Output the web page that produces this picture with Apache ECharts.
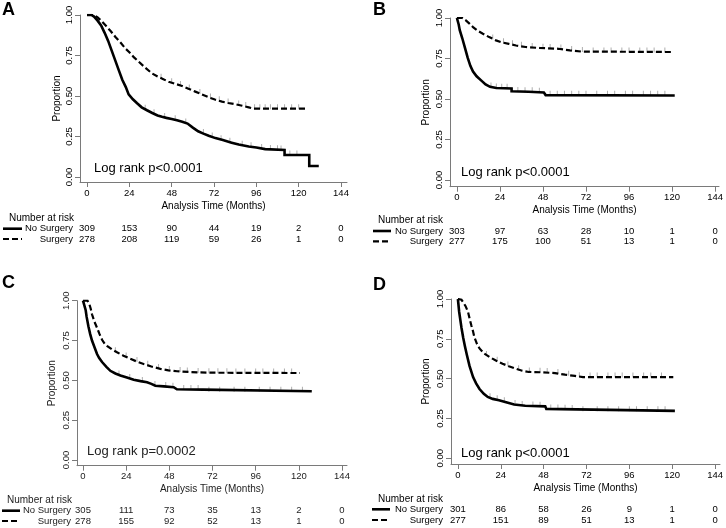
<!DOCTYPE html>
<html><head><meta charset="utf-8">
<script src="https://cdn.jsdelivr.net/npm/echarts@6/dist/echarts.min.js"></script>
<style>html,body{margin:0;padding:0;background:#fff}#c{width:726px;height:528px}</style>
</head><body><div id="c"></div>
<script>
// ---------- DATA ----------
const timeTicks = [0, 24, 48, 72, 96, 120, 144];
const propTicks = [0, 0.25, 0.5, 0.75, 1];
const panelLetters = ['A', 'B', 'C', 'D'];
const logRankTexts = ['Log rank p<0.0001', 'Log rank p<0.0001', 'Log rank p=0.0002', 'Log rank p<0.0001'];
const groupNames = ['No Surgery', 'Surgery'];
const xTitle = 'Analysis Time (Months)';
const yTitle = 'Proportion';
const riskTitle = 'Number at risk';

const riskA_noSurgery = [309, 153, 90, 44, 19, 2, 0];
const riskA_surgery   = [278, 208, 119, 59, 26, 1, 0];
const riskB_noSurgery = [303, 97, 63, 28, 10, 1, 0];
const riskB_surgery   = [277, 175, 100, 51, 13, 1, 0];
const riskC_noSurgery = [305, 111, 73, 35, 13, 2, 0];
const riskC_surgery   = [278, 155, 92, 52, 13, 1, 0];
const riskD_noSurgery = [301, 86, 58, 26, 9, 1, 0];
const riskD_surgery   = [277, 151, 89, 51, 13, 1, 0];

// Kaplan-Meier curves [month, survival]
const kmA_noSurgery = [[0,1],[2.5,1],[4,0.99],[6,0.965],[8,0.935],[10,0.89],[12,0.84],[14,0.78],[16,0.72],[18,0.66],[20,0.6],[22,0.555],[23.6,0.51],[26,0.48],[28.4,0.455],[31,0.43],[34,0.412],[37,0.395],[40,0.38],[42.5,0.372],[45,0.365],[48,0.358],[51,0.35],[54,0.341],[57,0.33],[60,0.305],[63,0.282],[66,0.268],[69,0.255],[72.8,0.24],[77,0.228],[82,0.212],[86,0.2],[91.7,0.188],[96,0.182],[101,0.172],[112,0.167],[112,0.136],[126,0.136],[126,0.068],[131.4,0.068]];
const kmA_surgery = [[0,1],[4,1],[6,0.985],[8.5,0.96],[11,0.93],[13.5,0.9],[16,0.866],[19,0.83],[21.7,0.794],[24,0.77],[26.5,0.74],[29.3,0.712],[33,0.675],[36.8,0.64],[40,0.62],[43,0.605],[46.3,0.588],[50,0.575],[53.9,0.562],[57.5,0.545],[61.4,0.527],[65,0.51],[69,0.492],[72.5,0.478],[76.5,0.465],[80,0.457],[84.1,0.449],[88,0.44],[91.7,0.43],[94.5,0.422],[124.7,0.422]];
const kmB_noSurgery = [[0,1],[1,0.96],[1.6,0.925],[3,0.875],[4.5,0.815],[6,0.755],[7.5,0.705],[9,0.67],[11,0.64],[13.5,0.615],[16,0.59],[18.5,0.575],[22,0.568],[30.5,0.565],[30.5,0.548],[40,0.545],[48.5,0.54],[49.5,0.524],[121.5,0.522]];
const kmB_surgery = [[0,1],[3,1],[5,0.985],[7,0.965],[9,0.944],[11.5,0.922],[14.5,0.903],[18,0.882],[21.8,0.862],[25,0.85],[29,0.84],[33,0.83],[38.3,0.821],[46,0.815],[56.6,0.81],[63,0.8],[69.4,0.793],[120.6,0.79]];
const kmC_noSurgery = [[0,1],[1,1],[1.5,0.94],[2,0.9],[3,0.84],[4,0.79],[5,0.75],[6.5,0.705],[7.8,0.665],[9,0.64],[10.6,0.615],[13,0.585],[15.2,0.56],[18,0.543],[20.8,0.53],[24.4,0.518],[28.2,0.504],[32,0.495],[35.6,0.488],[38,0.478],[40.2,0.466],[45,0.462],[50.4,0.457],[52.2,0.444],[66.7,0.442],[66.7,0.432],[127.2,0.432]];
const kmC_surgery = [[0,1],[2.5,1],[3.5,0.98],[4.3,0.95],[5,0.915],[6.3,0.87],[7.8,0.83],[9.2,0.79],[10.6,0.755],[12,0.73],[13.3,0.717],[16,0.695],[18.9,0.676],[22.5,0.655],[26.3,0.635],[30,0.618],[33.7,0.603],[38,0.587],[43,0.572],[47.5,0.563],[52.3,0.557],[60,0.552],[70.8,0.548],[120.6,0.546]];
const kmD_noSurgery = [[0,1],[0.7,0.92],[2,0.82],[3,0.755],[3.9,0.705],[5,0.65],[6.5,0.58],[8.5,0.51],[10.2,0.47],[12.1,0.435],[14.5,0.405],[16.7,0.385],[19.5,0.373],[23,0.365],[27,0.352],[31.5,0.338],[37.7,0.33],[48.9,0.326],[49.5,0.31],[66.3,0.307],[66.3,0.298],[121.5,0.298]];
const kmD_surgery = [[0,1],[2,0.995],[2.9,0.98],[4.3,0.955],[5.7,0.918],[6.6,0.875],[7.5,0.835],[8.4,0.8],[9.2,0.762],[10.6,0.72],[12.1,0.69],[14.5,0.66],[17.7,0.636],[21,0.615],[25,0.594],[28.5,0.578],[32.4,0.562],[36,0.55],[39.7,0.542],[47,0.54],[54.4,0.535],[60,0.525],[65.5,0.517],[70,0.51],[120.6,0.51]];

// censoring marks [month, survival]
const censA_noSurgery = [[33,0.418],[38,0.39],[44,0.367],[50,0.353],[56,0.333],[66,0.268],[71,0.247],[76,0.23],[81,0.215],[88,0.196],[93,0.187],[99,0.176],[104,0.17],[108,0.168],[110,0.167],[115,0.136],[119,0.136]];
const censA_surgery = [[42,0.61],[48,0.582],[53,0.565],[58,0.543],[64,0.515],[70,0.488],[75,0.47],[80,0.457],[86,0.445],[90,0.435],[95,0.422],[98,0.422],[101,0.422],[104,0.422],[108,0.422],[112,0.422],[116,0.422],[120,0.422]];
const censB_noSurgery = [[19,0.574],[22,0.568],[25,0.567],[28,0.566],[34,0.547],[38,0.545],[42,0.544],[46,0.541],[52,0.523],[56,0.523],[60,0.523],[64,0.523],[68,0.523],[72,0.523],[78,0.523],[84,0.523],[88,0.523],[94,0.523],[98,0.523],[104,0.523],[108,0.523],[112,0.523],[116,0.523]];
const censB_surgery = [[20,0.87],[26,0.847],[31,0.835],[36,0.825],[42,0.818],[48,0.814],[52,0.812],[58,0.808],[64,0.8],[70,0.793],[76,0.79],[82,0.79],[86,0.79],[92,0.79],[96,0.79],[102,0.79],[106,0.79],[110,0.79],[116,0.79]];
const censC_noSurgery = [[20,0.533],[26,0.512],[33,0.493],[40,0.467],[46,0.461],[50,0.457],[56,0.443],[60,0.443],[64,0.443],[70,0.432],[76,0.432],[84,0.432],[90,0.432],[98,0.432],[104,0.432],[110,0.432],[116,0.432],[122,0.432]];
const censC_surgery = [[18,0.68],[24,0.647],[30,0.618],[36,0.595],[42,0.575],[48,0.562],[54,0.556],[58,0.553],[64,0.55],[70,0.548],[75,0.547],[80,0.547],[85,0.546],[90,0.546],[96,0.546],[100,0.546],[106,0.546],[112,0.546],[116,0.546]];
const censD_noSurgery = [[18,0.38],[22,0.367],[26,0.355],[32,0.337],[36,0.331],[42,0.328],[46,0.327],[52,0.31],[56,0.309],[60,0.308],[64,0.307],[70,0.298],[78,0.298],[84,0.298],[90,0.298],[96,0.298],[100,0.298],[106,0.298],[112,0.298],[116,0.298]];
const censD_surgery = [[16,0.645],[22,0.61],[28,0.58],[34,0.556],[40,0.542],[46,0.54],[50,0.538],[56,0.532],[62,0.522],[68,0.512],[74,0.51],[78,0.51],[84,0.51],[88,0.51],[92,0.51],[98,0.51],[104,0.51],[108,0.51],[114,0.51]];

const panels = [
  {km: [kmA_noSurgery, kmA_surgery], cens: [censA_noSurgery, censA_surgery], risk: [riskA_noSurgery, riskA_surgery]},
  {km: [kmB_noSurgery, kmB_surgery], cens: [censB_noSurgery, censB_surgery], risk: [riskB_noSurgery, riskB_surgery]},
  {km: [kmC_noSurgery, kmC_surgery], cens: [censC_noSurgery, censC_surgery], risk: [riskC_noSurgery, riskC_surgery]},
  {km: [kmD_noSurgery, kmD_surgery], cens: [censD_noSurgery, censD_surgery], risk: [riskD_noSurgery, riskD_surgery]}
];

// ---------- LAYOUT (pixels) ----------
const layouts = [
  {x0:87,  x144:341, y1:15,   y0:177,   axL:80,  axB:182,   axR:347, yGap:18, letter:[2,10],   lr:[94,168],   nar:[9,218.3],  rows:[228.7,239],  lblEnd:73,  leg:[3,22],   txt:'#000'},
  {x0:457, x144:719, y1:18,   y0:180,   axL:450, axB:186.7, axR:723, yGap:19, letter:[373,10], lr:[461,172],  nar:[378,220.7], rows:[231,241.3],  lblEnd:443, leg:[373,391], txt:'#000'},
  {x0:83,  x144:342, y1:300.7,y0:460,   axL:77,  axB:465.7, axR:347, yGap:20, letter:[2,283],  lr:[87,451.7], nar:[7,500.7],  rows:[510.7,521],  lblEnd:71,  leg:[2,20],   txt:'#222'},
  {x0:458, x144:719, y1:299,  y0:458.3, axL:451, axB:464,   axR:724, yGap:20, letter:[373,285],lr:[461,453],  nar:[378,499],   rows:[509.3,520],  lblEnd:443, leg:[372,390], txt:'#000'}
];

const FONT = "'Liberation Sans', Arial, sans-serif";
const axisColor = '#7a7a7a';

const chart = echarts.init(document.getElementById('c'), null, {renderer: 'canvas'});

const grids = [], xAxes = [], yAxes = [], series = [];
layouts.forEach((L, i) => {
  const ppm = (L.x144 - L.x0) / 144;
  const ppu = (L.y0 - L.y1);
  const xmin = (L.axL - L.x0) / ppm, xmax = (L.axR - L.x0) / ppm;
  const ymin = -(L.axB - L.y0) / ppu;
  grids.push({left: L.axL, top: L.y1, width: L.axR - L.axL, height: L.axB - L.y1});
  xAxes.push({
    type: 'value', gridIndex: i, min: xmin, max: xmax,
    axisLine: {show: true, onZero: false, lineStyle: {color: axisColor, width: 1}},
    axisTick: {show: true, length: 5, customValues: timeTicks, lineStyle: {color: axisColor}},
    axisLabel: {customValues: timeTicks, margin: 6, fontSize: 9.5, fontFamily: FONT, color: L.txt},
    splitLine: {show: false},
    name: xTitle, nameLocation: 'middle', nameGap: 19,
    nameTextStyle: {fontSize: 10, fontFamily: FONT, color: L.txt}
  });
  yAxes.push({
    type: 'value', gridIndex: i, min: ymin, max: 1,
    axisLine: {show: true, onZero: false, lineStyle: {color: axisColor, width: 1}},
    axisTick: {show: true, length: 5, customValues: propTicks, lineStyle: {color: axisColor}},
    axisLabel: {customValues: propTicks, rotate: 90, margin: 6, fontSize: 9.5, fontFamily: FONT, color: L.txt,
      formatter: v => Number(v).toFixed(2)},
    splitLine: {show: false},
    name: yTitle, nameLocation: 'middle', nameGap: L.yGap, nameRotate: 90,
    nameTextStyle: {fontSize: 10, fontFamily: FONT, color: L.txt}
  });
  panels[i].km.forEach((d, g) => {
    series.push({
      type: 'line', xAxisIndex: i, yAxisIndex: i, data: d, symbol: 'none', showSymbol: false,
      lineStyle: {color: '#000', width: g === 0 ? 2.6 : 2.2, type: g === 0 ? 'solid' : [6, 3], cap: 'butt', join: 'miter'},
      name: groupNames[g], silent: true, z: 3
    });
  });
  panels[i].cens.forEach((d, g) => {
    series.push({
      type: 'scatter', xAxisIndex: i, yAxisIndex: i, data: d, symbol: 'rect', symbolSize: [1, 5],
      symbolOffset: [0, -2], itemStyle: {color: '#9a9a9a'}, silent: true, z: 2
    });
  });
});

chart.setOption({
  animation: false,
  backgroundColor: '#fff',
  grid: grids, xAxis: xAxes, yAxis: yAxes, series: series
});

// graphic texts: panel letters, log rank, risk tables
const graphics = [];
layouts.forEach((L, i) => {
  graphics.push({type: 'text', x: L.letter[0], y: L.letter[1],
    style: {text: panelLetters[i], font: "bold 18px " + FONT, fill: '#000', align: 'left', verticalAlign: 'middle'}});
  graphics.push({type: 'text', x: L.lr[0], y: L.lr[1],
    style: {text: logRankTexts[i], font: "13px " + FONT, fill: L.txt, align: 'left', verticalAlign: 'middle'}});
  graphics.push({type: 'text', x: L.nar[0], y: L.nar[1],
    style: {text: riskTitle, font: "10px " + FONT, fill: L.txt, align: 'left', verticalAlign: 'middle'}});
  groupNames.forEach((gname, g) => {
    const ry = L.rows[g];
    graphics.push({type: 'text', x: L.lblEnd, y: ry,
      style: {text: gname, font: "9.5px " + FONT, fill: L.txt, align: 'right', verticalAlign: 'middle'}});
    graphics.push({type: 'line', shape: {x1: L.leg[0], y1: ry, x2: L.leg[1], y2: ry},
      style: {stroke: '#000', lineWidth: g === 0 ? 2.6 : 2.2, lineDash: g === 0 ? null : [6, 3]}});
    panels[i].risk[g].forEach((n, k) => {
      const px = chart.convertToPixel({xAxisIndex: i}, timeTicks[k]);
      graphics.push({type: 'text', x: px, y: ry,
        style: {text: String(n), font: "9.5px " + FONT, fill: L.txt, align: 'center', verticalAlign: 'middle'}});
    });
  });
});
chart.setOption({graphic: graphics});
</script>
</body></html>
